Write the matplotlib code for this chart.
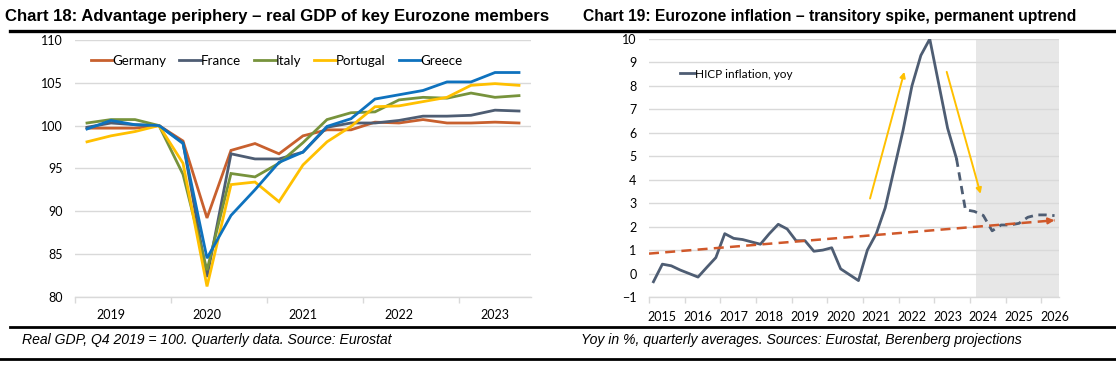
import matplotlib
matplotlib.use('Agg')
import matplotlib.pyplot as plt
from matplotlib.lines import Line2D
import numpy as np

# ---------------- Chart 18 data ----------------
gdp_quarters = ['2019Q1', '2019Q2', '2019Q3', '2019Q4',
                '2020Q1', '2020Q2', '2020Q3', '2020Q4',
                '2021Q1', '2021Q2', '2021Q3', '2021Q4',
                '2022Q1', '2022Q2', '2022Q3', '2022Q4',
                '2023Q1', '2023Q2', '2023Q3']
gdp_years = ['2019', '2020', '2021', '2022', '2023']
germany = [99.7, 99.7, 99.7, 100.0, 98.2, 89.2, 97.1, 97.9, 96.7, 98.8,
           99.5, 99.5, 100.4, 100.3, 100.7, 100.3, 100.3, 100.4, 100.3]
france = [99.8, 100.3, 100.1, 100.0, 98.0, 82.3, 96.7, 96.1, 96.1, 96.9,
          99.8, 100.3, 100.3, 100.6, 101.1, 101.1, 101.2, 101.8, 101.7]
italy = [100.3, 100.7, 100.7, 100.0, 94.3, 83.1, 94.4, 94.0, 95.6, 98.0,
         100.7, 101.5, 101.6, 103.0, 103.3, 103.2, 103.8, 103.3, 103.5]
portugal = [98.1, 98.8, 99.3, 100.0, 95.6, 81.2, 93.1, 93.4, 91.1, 95.4,
            98.1, 99.9, 102.2, 102.3, 102.8, 103.3, 104.7, 104.9, 104.7]
greece = [99.6, 100.6, 100.1, 100.0, 97.9, 84.5, 89.5, 92.5, 95.7, 96.9,
          99.9, 100.8, 103.1, 103.6, 104.1, 105.1, 105.1, 106.2, 106.2]
gdp_series = [('Germany', germany, '#C8602E'),
              ('France', france, '#4E5D73'),
              ('Italy', italy, '#77933C'),
              ('Portugal', portugal, '#FFC000'),
              ('Greece', greece, '#0E72BE')]

# ---------------- Chart 19 data ----------------
hicp_years = ['2015', '2016', '2017', '2018', '2019', '2020',
              '2021', '2022', '2023', '2024', '2025', '2026']
hicp_quarters = [f'{y}Q{q}' for y in hicp_years for q in (1, 2, 3, 4)][:46]
hicp_actual = [-0.35, 0.4, 0.33, 0.15, 0.0, -0.15, 0.27, 0.68,
               1.7, 1.5, 1.45, 1.35, 1.25, 1.7, 2.1, 1.9,
               1.4, 1.4, 0.95, 1.0, 1.1, 0.2, -0.05, -0.3,
               1.0, 1.7, 2.8, 4.45, 6.1, 8.0, 9.3, 10.0,
               8.1, 6.2, 4.9]                      # 2015Q1 - 2023Q3
hicp_forecast = [4.9, 2.72, 2.65, 2.48, 1.82, 2.07, 2.07, 2.14,
                 2.4, 2.5, 2.5, 2.47]               # 2023Q3 - 2026Q2
trend_values = [0.85, 2.27]                         # left edge -> 2026Q2
forecast_shade_start = '2024Q1'
arrow_up = [(24.3, 3.2), (28.15, 8.6)]
arrow_down = [(32.9, 8.6), (36.7, 3.4)]

# ---------------- styling ----------------
TICKFONT = 'Lato'
SANS = ['Liberation Sans', 'DejaVu Sans']
GRID = '#D9D9D9'
W, H = 1116, 371

fig = plt.figure(figsize=(W / 100, H / 100), dpi=100)


def px_rect(x0, x1, ytop, ybot):
    return [x0 / W, 1 - ybot / H, (x1 - x0) / W, (ybot - ytop) / H]


def style_axis(ax):
    for s in ('left', 'right', 'top'):
        ax.spines[s].set_visible(False)
    ax.spines['bottom'].set_color(GRID)
    ax.spines['bottom'].set_linewidth(1.0)
    ax.yaxis.grid(True, color=GRID, linewidth=1.0)
    ax.set_axisbelow(True)
    ax.tick_params(axis='y', length=0, pad=9, labelsize=9, labelcolor='#000000')
    ax.tick_params(axis='x', which='major', length=0, pad=9, labelsize=9)
    ax.tick_params(axis='x', which='minor', length=4, color=GRID, width=1.0)
    for lab in ax.get_xticklabels() + ax.get_yticklabels():
        lab.set_fontfamily(TICKFONT)


# ---------------- Left chart ----------------
ax1 = fig.add_axes(px_rect(75, 531, 40, 296.7))
x1 = np.arange(len(gdp_quarters))
for name, vals, col in gdp_series:
    ax1.plot(x1, vals, color=col, linewidth=2.0, label=name, solid_joinstyle='miter')
ax1.set_ylim(80, 110)
ax1.set_yticks(np.arange(80, 111, 5))
ax1.set_xlim(-0.5, len(gdp_quarters) - 0.5)
ax1.set_xticks([gdp_quarters.index(y + 'Q2') for y in gdp_years])
ax1.set_xticklabels(gdp_years)
ax1.set_xticks(np.arange(-0.5, len(gdp_quarters), 4), minor=True)
style_axis(ax1)
leg1 = ax1.legend(loc='center', bbox_to_anchor=(0.442, 0.918), ncol=5, frameon=False,
                  handlelength=1.6, handletextpad=0.0, columnspacing=1.0,
                  prop={'family': TICKFONT, 'size': 9.6})
for ln in leg1.get_lines():
    ln.set_linewidth(2.0)

# ---------------- Right chart ----------------
ax2 = fig.add_axes(px_rect(649, 1059, 39, 297))
n2 = len(hicp_quarters)
x_act = np.arange(len(hicp_actual))
x_fc = np.arange(len(hicp_actual) - 1, len(hicp_actual) - 1 + len(hicp_forecast))
shade0 = hicp_quarters.index(forecast_shade_start) + 0.2
ax2.axvspan(shade0, n2 - 0.5, color='#E7E7E7', zorder=0, linewidth=0)
ax2.plot(x_act, hicp_actual, color='#4E5D73', linewidth=2.0, label='HICP inflation, yoy', zorder=3)
ax2.plot(x_fc, hicp_forecast, color='#4E5D73', linewidth=2.0, linestyle=(0, (3, 2)), zorder=3)

tx = [-0.5, n2 - 1]
ax2.plot(tx, trend_values, color='#D0582A', linewidth=1.8, linestyle=(0, (4, 2.5)), zorder=4)
ax2.annotate('', xy=(tx[1], trend_values[1]),
             xytext=(tx[1] - 0.8, trend_values[1] - 0.8 * (trend_values[1] - trend_values[0]) / (tx[1] - tx[0])),
             arrowprops=dict(arrowstyle='-|>', color='#D0582A', lw=1.5, mutation_scale=9,
                             shrinkA=0, shrinkB=0), zorder=4)
for (a, b) in (arrow_up, arrow_down):
    ax2.annotate('', xy=b, xytext=a,
                 arrowprops=dict(arrowstyle='-|>', color='#FFC000', lw=1.4, mutation_scale=8,
                                 shrinkA=0, shrinkB=0), zorder=4)

ax2.set_ylim(-1, 10)
ax2.set_yticks(np.arange(-1, 11, 1))
ax2.set_xlim(-0.5, n2 - 0.5)
ax2.set_xticks([hicp_quarters.index(y + 'Q2') for y in hicp_years])
ax2.set_xticklabels(hicp_years)
ax2.set_xticks(np.arange(-0.5, n2, 4), minor=True)
style_axis(ax2)
ax2.tick_params(axis='x', which='major', pad=10)
leg2 = ax2.legend(loc='center left', bbox_to_anchor=(0.05, 0.864), frameon=False,
                  handlelength=1.3, handletextpad=0.0,
                  prop={'family': TICKFONT, 'size': 8.5})

# ---------------- Titles, rules, sources ----------------
renderer = fig.canvas.get_renderer()


def fit_text(x0, y, s, target_w, size, **kw):
    t = fig.text(x0 / W, 1 - y / H, s, fontsize=size, va='center', ha='left', **kw)
    w = t.get_window_extent(renderer=renderer).width
    t.set_fontsize(size * target_w / w)
    return t


fit_text(5, 17, 'Chart 18: Advantage periphery – real GDP of key Eurozone members',
         545, 13, fontweight='bold', family=SANS)
fit_text(583, 17, 'Chart 19: Eurozone inflation – transitory spike, permanent uptrend',
         492, 13, fontweight='bold', family=SANS)
fig.text(22 / W, 1 - 340 / H, 'Real GDP, Q4 2019 = 100. Quarterly data. Source: Eurostat',
         fontsize=10.1, style='italic', family=SANS, va='center', ha='left')
fig.text(581 / W, 1 - 340 / H, 'Yoy in %, quarterly averages. Sources: Eurostat, Berenberg projections',
         fontsize=10.1, style='italic', family=SANS, va='center', ha='left')

for (xa, xb, y, lw) in ((10, 1116, 31, 2.4), (10, 1116, 327, 2.0), (0, 1116, 359, 2.0)):
    fig.add_artist(Line2D([xa / W, xb / W], [1 - y / H, 1 - y / H], color='black',
                          linewidth=lw, transform=fig.transFigure))

fig.savefig('out.png', dpi=100)
